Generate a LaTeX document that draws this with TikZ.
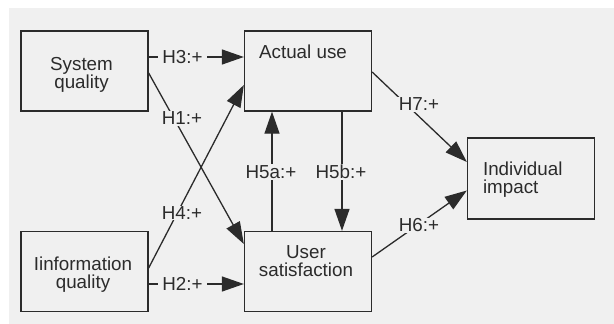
\documentclass[tikz,border=0pt]{standalone}
\usepackage{fontspec}
\setmainfont{Liberation Sans}
\usetikzlibrary{arrows.meta}
\definecolor{bg}{HTML}{F0F0F0}
\definecolor{ink}{HTML}{2B2B2B}
\begin{document}
\begin{tikzpicture}[x=1pt,y=-1pt,
  box/.style={draw=ink, line width=1.3pt, minimum width=127pt, minimum height=80pt, inner sep=0pt},
  txt/.style={font=\fontsize{18.8}{18}\selectfont, text=ink, align=center, inner sep=0pt},
  txtl/.style={txt, align=left},
  conn/.style={draw=ink, line width=1.3pt, -{Triangle[length=22pt,width=15pt]}},
  hyp/.style={fill=bg, font=\fontsize{18.8}{18}\selectfont, text=ink, inner xsep=4.5pt, inner ysep=1pt}]
\useasboundingbox (0,0) rectangle (614,324);
\fill[bg] (9,8) rectangle (614,324);

% constructs
\node[box, label={[txt, xshift=-3pt, yshift=-4pt]center:{System\\quality}}] (sq) at (84.5,71) {};
\node[box, label={[txt, xshift=-1.5pt, yshift=-3pt]center:{Iinformation\\quality}}] (iq) at (84.5,271.5) {};
\node[box, label={[txt, xshift=-5pt, yshift=19pt]center:{Actual use}}] (au) at (308,71) {};
\node[box, label={[txt, xshift=-2pt, yshift=10.5pt]center:{User\\satisfaction}}] (us) at (308,271.5) {};
\node[box, minimum height=81pt, label={[txtl, anchor=west, xshift=16pt, yshift=-1.5pt]west:{Individual\\impact}}] (ii) at (531,178.5) {};

% hypothesised paths
\draw[conn] ([yshift=14pt]sq.east) -- ([yshift=14pt]au.west);
\draw[conn] ([yshift=-2pt]sq.east) -- ([yshift=27.5pt]us.west);
\draw[conn] ([yshift=3.5pt]iq.east) -- ([yshift=-14pt]au.west);
\draw[conn] ([yshift=-12.5pt]iq.east) -- ([yshift=-12.5pt]us.west);
\draw[conn] ([xshift=-36pt]us.north) -- ([xshift=-36pt]au.south);
\draw[conn] ([xshift=34pt]au.south) -- ([xshift=34pt]us.north);
\draw[conn] ([yshift=-1pt]au.east) -- ([yshift=16.5pt]ii.west);
\draw[conn] ([yshift=14.5pt]us.east) -- ([yshift=-12pt]ii.west);

% path labels
\node[hyp] (h3) at (182.5,57) {H3:+};
\node[hyp] (h1) at (182,118.5) {H1:+};
\node[hyp] (h4) at (182,213) {H4:+};
\node[hyp] (h2) at (182.5,284) {H2:+};
\node[hyp] (h5a) at (271,172) {H5a:+};
\node[hyp] (h5b) at (341,172) {H5b:+};
\node[hyp] (h7) at (419,104.5) {H7:+};
\node[hyp] (h6) at (419,225.5) {H6:+};
\end{tikzpicture}
\end{document}
